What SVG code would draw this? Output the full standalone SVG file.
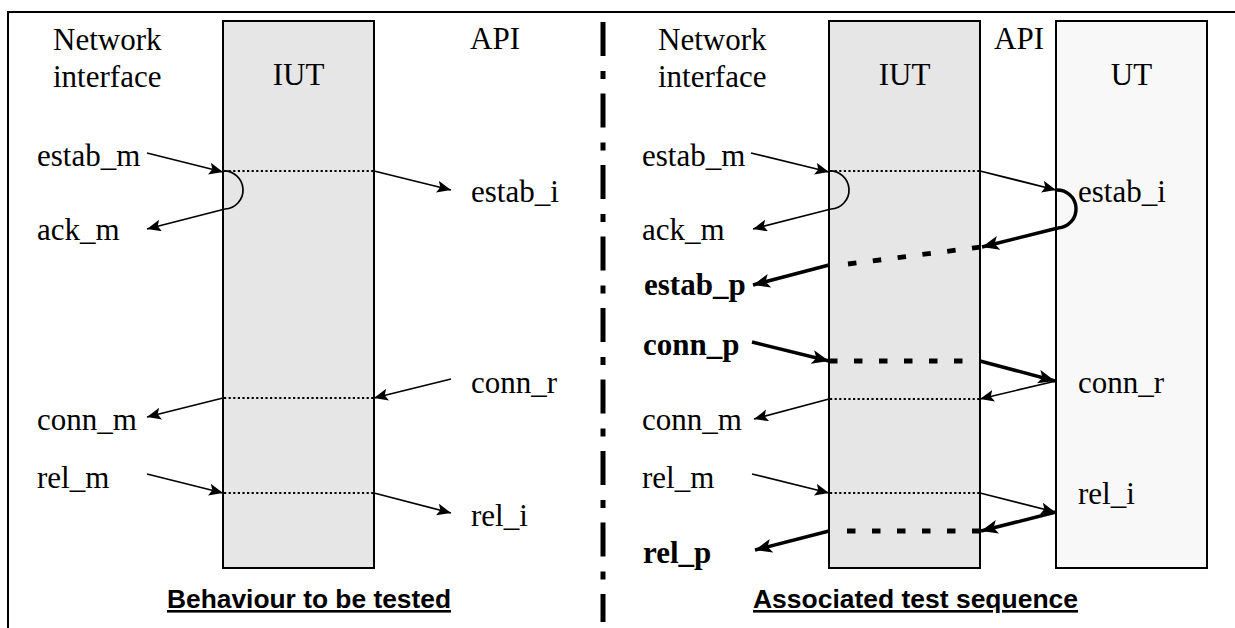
<svg xmlns="http://www.w3.org/2000/svg" width="1235" height="628" viewBox="0 0 1235 628">
<style>
.t{font-size:31px;fill:#000}
.b{font-weight:bold}
.m{text-anchor:middle}
.h{font-size:26px;font-weight:bold;text-decoration:underline;fill:#000}
.box{stroke:#000;stroke-width:2}
.thin{stroke:#000;stroke-width:1.7;fill:none}
.thick{stroke:#000;stroke-width:3.4;fill:none}
.dot{stroke:#000;stroke-width:2.2;stroke-dasharray:2.2 2.4;fill:none}
.tdash{stroke:#000;stroke-width:4.8;stroke-dasharray:8.5 16.5;fill:none}
.at{marker-end:url(#ah)}
.aT{marker-end:url(#aH)}
</style>
<defs>
<marker id="ah" markerUnits="userSpaceOnUse" markerWidth="15" markerHeight="13" refX="14" refY="6" orient="auto">
<path d="M0,0 L14,6 L0,12 L3,6 z" fill="#000"/>
</marker>
<marker id="aH" markerUnits="userSpaceOnUse" markerWidth="18" markerHeight="15" refX="17" refY="7" orient="auto">
<path d="M0,0 L17,7 L0,14 L4,7 z" fill="#000"/>
</marker>
</defs>
<rect width="1235" height="628" fill="#fff"/>
<g id="frame">
<line x1="8" y1="12" x2="1235" y2="12" stroke="#000" stroke-width="2"/>
<line x1="8" y1="11" x2="8" y2="628" stroke="#000" stroke-width="2"/>
<line x1="603" y1="19" x2="603" y2="622" stroke="#000" stroke-width="5" stroke-dasharray="34 15 8 14.5" stroke-dashoffset="-3"/>
</g>
<g id="iut-left" font-family="Liberation Serif, DejaVu Serif, serif">
<rect class="box" x="223" y="21" width="151" height="547" fill="#e6e6e6"/>
<text class="t m" x="298.5" y="85">IUT</text>
</g>
<g id="iut-right" font-family="Liberation Serif, DejaVu Serif, serif">
<rect class="box" x="829" y="21" width="151" height="547" fill="#e6e6e6"/>
<text class="t m" x="904.5" y="85">IUT</text>
</g>
<g id="ut-right" font-family="Liberation Serif, DejaVu Serif, serif">
<rect class="box" x="1056" y="21" width="151" height="547" fill="#f8f8f8"/>
<text class="t m" x="1131.5" y="85">UT</text>
</g>
<g id="labels-left" font-family="Liberation Serif, DejaVu Serif, serif">
<text class="t" x="53" y="50">Network</text>
<text class="t" x="53" y="87">interface</text>
<text class="t" x="470" y="49">API</text>
<text class="t" x="37" y="166">estab_m</text>
<text class="t" x="37" y="240">ack_m</text>
<text class="t" x="471" y="202">estab_i</text>
<text class="t" x="471" y="393">conn_r</text>
<text class="t" x="37" y="430">conn_m</text>
<text class="t" x="37" y="488">rel_m</text>
<text class="t" x="471" y="526">rel_i</text>
<text class="h" font-family="Liberation Sans, Arial, sans-serif" x="167" y="608" textLength="284" lengthAdjust="spacingAndGlyphs">Behaviour to be tested</text>
</g>
<g id="labels-right" font-family="Liberation Serif, DejaVu Serif, serif">
<text class="t" x="658" y="50">Network</text>
<text class="t" x="658" y="87">interface</text>
<text class="t" x="994" y="49">API</text>
<text class="t" x="642" y="166">estab_m</text>
<text class="t" x="642" y="240">ack_m</text>
<text class="t" x="1078" y="202">estab_i</text>
<text class="t b" x="644" y="295">estab_p</text>
<text class="t b" x="643" y="355">conn_p</text>
<text class="t" x="1078" y="393">conn_r</text>
<text class="t" x="642" y="430">conn_m</text>
<text class="t" x="642" y="488">rel_m</text>
<text class="t" x="1078" y="504">rel_i</text>
<text class="t b" x="643" y="563">rel_p</text>
<text class="h" font-family="Liberation Sans, Arial, sans-serif" x="753" y="608" textLength="325" lengthAdjust="spacingAndGlyphs">Associated test sequence</text>
</g>
<g id="connectors">
<line class="thin at" x1="147" y1="153" x2="223" y2="172"/>
<line class="dot" x1="224" y1="171" x2="374" y2="171"/>
<path class="thin" d="M223,171 A19,19 0 0 1 225,209"/>
<line class="thin at" x1="225" y1="209" x2="147" y2="229"/>
<line class="thin at" x1="374" y1="171" x2="451" y2="190"/>
<line class="thin at" x1="451" y1="379" x2="374" y2="398"/>
<line class="dot" x1="224" y1="398" x2="374" y2="398"/>
<line class="thin at" x1="223" y1="398" x2="147" y2="417"/>
<line class="thin at" x1="147" y1="474" x2="223" y2="493"/>
<line class="dot" x1="224" y1="493" x2="374" y2="493"/>
<line class="thin at" x1="374" y1="493" x2="451" y2="513"/>
<line class="thin at" x1="751" y1="153" x2="829" y2="172"/>
<line class="dot" x1="830" y1="171" x2="980" y2="171"/>
<path class="thin" d="M829,171 A19,19 0 0 1 831,209"/>
<line class="thin at" x1="831" y1="209" x2="753" y2="229"/>
<line class="thin at" x1="980" y1="171" x2="1056" y2="190"/>
<path class="thick" d="M1056,190 A19,19 0 0 1 1058,228"/>
<line class="thick aT" x1="1058" y1="228" x2="982" y2="247"/>
<line class="tdash" x1="848" y1="264" x2="981" y2="247"/>
<line class="thick aT" x1="829" y1="265" x2="753" y2="285"/>
<line class="thick aT" x1="752" y1="342" x2="829" y2="361"/>
<line class="tdash" x1="829" y1="361" x2="963" y2="361"/>
<line class="thick aT" x1="980" y1="361" x2="1055" y2="381"/>
<line class="thin at" x1="1056" y1="381" x2="980" y2="399"/>
<line class="dot" x1="830" y1="399" x2="980" y2="399"/>
<line class="thin at" x1="829" y1="399" x2="754" y2="419"/>
<line class="thin at" x1="752" y1="474" x2="829" y2="493"/>
<line class="dot" x1="830" y1="493" x2="980" y2="493"/>
<line class="thin at" x1="980" y1="493" x2="1055" y2="512"/>
<line class="thick aT" x1="1056" y1="512" x2="981" y2="531"/>
<line class="tdash" x1="847" y1="531" x2="980" y2="531"/>
<line class="thick aT" x1="829" y1="531" x2="755" y2="550"/>
</g>
</svg>
